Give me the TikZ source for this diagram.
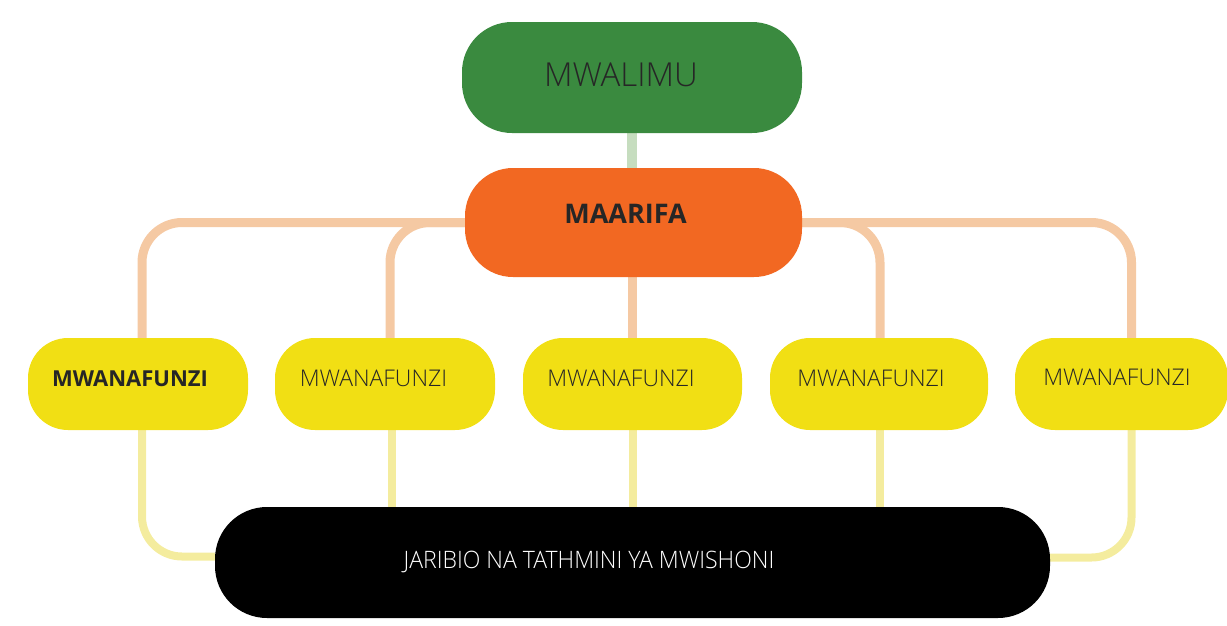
\documentclass[tikz,border=0pt]{standalone}
\usepackage{fontspec}
\setmainfont{Open Sans}
\newfontfamily\lightfont{Open Sans Light}
\newfontfamily\condfont{Open Sans Light}[FakeStretch=0.96]
\usetikzlibrary{backgrounds}
\definecolor{boxgreen}{HTML}{3A8A3F}
\definecolor{boxorange}{HTML}{F26822}
\definecolor{boxyellow}{HTML}{F1DF14}
\definecolor{linkgreen}{HTML}{C6DDBF}
\definecolor{linkorange}{HTML}{F5C9A3}
\definecolor{linkyellow}{HTML}{F4EC9E}
\definecolor{txtdark}{HTML}{262626}
\tikzset{
  pill/.style={rectangle, rounded corners=#1, inner sep=0pt, draw=none},
  lbl/.style={inner sep=0pt, text=txtdark},
  lightlbl/.style={lbl, font=\lightfont\fontsize{23}{25}\selectfont},
  boldlbl/.style={lbl, font=\fontsize{22}{24}\selectfont\bfseries},
  pupil/.style={pill=40pt, fill=boxyellow, minimum width=220pt, minimum height=92pt},
  olink/.style={draw=linkorange, line width=9pt, rounded corners=40pt},
  ylink/.style={draw=linkyellow, line width=8pt, rounded corners=40pt},
  glink/.style={draw=linkgreen, line width=10pt}
}
\begin{document}
\begin{tikzpicture}[x=1pt,y=-1pt]
\useasboundingbox (0,0) rectangle (1227,625);
\clip (0,0) rectangle (1227,625);

\node[pill=50pt, fill=boxgreen, minimum width=340pt, minimum height=111pt,
  label={[lbl, font=\lightfont\fontsize{33}{36}\selectfont, xshift=-11pt, yshift=2.5pt]center:MWALIMU}]
  (teacher) at (632,77.5) {};
\node[pill=48pt, fill=boxorange, minimum width=337pt, minimum height=109pt,
  label={[lbl, font=\fontsize{27}{30}\selectfont\bfseries, xshift=-8pt, yshift=9pt]center:MAARIFA}]
  (know) at (633.5,222.5) {};

\node[pupil, label={[boldlbl, xshift=-8pt, yshift=5.5pt]center:MWANAFUNZI}] (s1) at (138,384) {};
\node[pupil, label={[lightlbl, xshift=-11.5pt, yshift=5.5pt]center:MWANAFUNZI}] (s2) at (385,384) {};
\node[pupil, minimum width=219pt, label={[lightlbl, xshift=-11.5pt, yshift=5.5pt]center:MWANAFUNZI}] (s3) at (632.5,384) {};
\node[pupil, minimum width=218pt, label={[lightlbl, xshift=-8pt, yshift=5.5pt]center:MWANAFUNZI}] (s4) at (879,384) {};
\node[pupil, minimum width=213pt, label={[lightlbl, xshift=-4.5pt, yshift=7pt]center:MWANAFUNZI}] (s5) at (1121.5,384) {};

\node[pill=52pt, fill=black, minimum width=835pt, minimum height=111pt,
  label={[inner sep=0pt, text=white, font=\condfont\fontsize{24}{26}\selectfont, xshift=-43.5pt, yshift=1pt]center:JARIBIO NA TATHMINI YA MWISHONI}]
  (exam) at (632.5,562.5) {};

\begin{scope}[on background layer]
  \draw[glink] (teacher.south) -- (teacher.south |- know.north);
  \draw[olink] (s3.north |- know.south) -- (s3.north);
  \draw[olink] (know.west) -| ([xshift=4pt]s1.north);
  \draw[olink] (know.west) -| ([xshift=5pt]s2.north);
  \draw[olink] (know.east) -| ([xshift=1pt]s4.north);
  \draw[olink] (know.east) -| ([xshift=10pt]s5.north);
  \draw[ylink] ([xshift=4pt]s1.south) |- ([yshift=6pt]exam.west);
  \draw[ylink] ([xshift=10pt]s5.south) |- ([yshift=5pt]exam.east);
  \draw[ylink] ([xshift=7pt]s2.south) -- ([xshift=7pt]s2.south |- exam.north);
  \draw[ylink] (s3.south) -- (s3.south |- exam.north);
  \draw[ylink] ([xshift=1pt]s4.south) -- ([xshift=1pt]s4.south |- exam.north);
\end{scope}
\end{tikzpicture}
\end{document}
